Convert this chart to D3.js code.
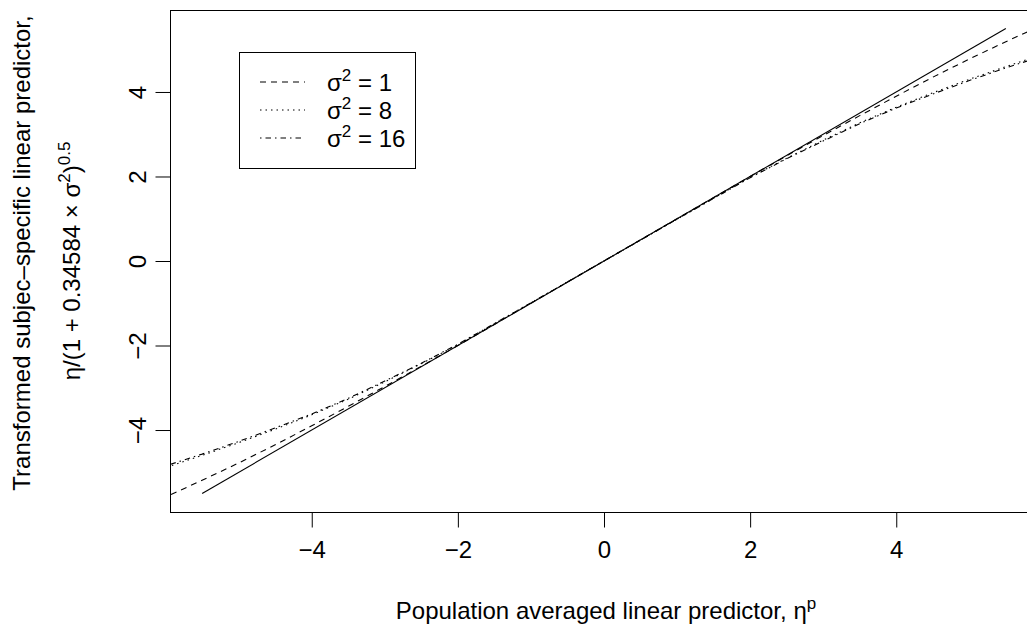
<!DOCTYPE html>
<html>
<head>
<meta charset="utf-8">
<script src="https://cdn.jsdelivr.net/npm/d3@7"></script>
<style>
  html, body { margin: 0; padding: 0; background: #fff; }
  svg { display: block; font-family: "Liberation Sans", Arial, sans-serif; }
</style>
</head>
<body>
<svg id="chart" width="1027" height="630"></svg>
<script>
// ---- data ----
const xTicks = [-4, -2, 0, 2, 4];
const yTicks = [-4, -2, 0, 2, 4];

// reference line (solid)
const refX = [-5.5, 5.5];
const refY = [-5.5, 5.5];

// curves: population averaged predictor (x) vs transformed subject-specific predictor (y)
const curveX = [-6.2, -5.5, -5, -4.5, -4, -3.5, -3, -2.5, -2, -1, 0, 1, 2, 2.5, 3, 3.5, 4, 4.5, 5, 5.5, 6.2];
const sigma1Y  = [-5.74, -5.19, -4.78, -4.35, -3.90, -3.44, -2.97, -2.49, -2.00, -1.00, 0, 1.00, 2.00, 2.49, 2.97, 3.44, 3.90, 4.35, 4.78, 5.19, 5.74];
const sigma8Y  = [-5.00, -4.60, -4.30, -3.98, -3.64, -3.27, -2.86, -2.43, -1.98, -0.99, 0, 0.99, 1.98, 2.43, 2.86, 3.27, 3.64, 3.98, 4.30, 4.60, 5.00];
const sigma16Y = [-4.96, -4.57, -4.27, -3.95, -3.62, -3.25, -2.84, -2.42, -1.97, -0.99, 0, 0.99, 1.97, 2.42, 2.84, 3.25, 3.62, 3.95, 4.27, 4.57, 4.96];

const legendLabels = ["1", "8", "16"];
const legendDash = ["6,5", "1.5,4", "1.5,4,5.5,4"];

// ---- layout ----
const svg = d3.select("#chart");
const pL = 170, pR = 1038, pT = 10, pB = 512;
const FS = 24;

const x = d3.scaleLinear().domain([-5.94, 5.94]).range([pL, pR]);
const y = d3.scaleLinear().domain([-5.94, 5.94]).range([pB, pT]);

svg.append("defs").append("clipPath").attr("id", "clip")
  .append("rect").attr("x", pL).attr("y", pT)
  .attr("width", pR - pL).attr("height", pB - pT);

const line = d3.line().x(d => x(d[0])).y(d => y(d[1]));
const plot = svg.append("g").attr("clip-path", "url(#clip)");

plot.append("path").datum(d3.zip(refX, refY)).attr("d", line)
  .attr("fill", "none").attr("stroke", "#000").attr("stroke-width", 1.1);

const series = [sigma1Y, sigma8Y, sigma16Y];
series.forEach((ys, i) => {
  plot.append("path").datum(d3.zip(curveX, ys)).attr("d", line)
    .attr("fill", "none").attr("stroke", "#000").attr("stroke-width", 1.1)
    .attr("stroke-dasharray", legendDash[i]);
});

// box
svg.append("rect").attr("x", pL + 0.5).attr("y", pT + 0.5)
  .attr("width", pR - pL).attr("height", pB - pT)
  .attr("fill", "none").attr("stroke", "#000").attr("stroke-width", 1);

// x axis
const xAxis = d3.axisBottom(x).tickValues(xTicks).tickSize(15)
  .tickFormat(d => d < 0 ? "\u2212" + Math.abs(d) : d);
const gx = svg.append("g").attr("transform", `translate(0,${pB + 0.5})`).call(xAxis);
gx.select(".domain").remove();
gx.selectAll(".tick line").attr("stroke", "#000");
gx.selectAll(".tick text").attr("font-size", FS).attr("font-family", "Liberation Sans, Arial, sans-serif")
  .attr("fill", "#000").attr("dy", null).attr("y", 45);

// y axis
const yAxis = d3.axisLeft(y).tickValues(yTicks).tickSize(15)
  .tickFormat(d => d < 0 ? "\u2212" + Math.abs(d) : d);
const gy = svg.append("g").attr("transform", `translate(${pL + 0.5},0)`).call(yAxis);
gy.select(".domain").remove();
gy.selectAll(".tick line").attr("stroke", "#000");
gy.selectAll(".tick text").attr("font-size", FS).attr("font-family", "Liberation Sans, Arial, sans-serif")
  .attr("fill", "#000").attr("x", null).attr("dy", null)
  .attr("text-anchor", "middle")
  .attr("transform", "translate(-25,0) rotate(-90)");

// x label
const xl = svg.append("text").attr("x", (pL + pR) / 2 + 2).attr("y", 619)
  .attr("text-anchor", "middle").attr("font-size", FS).attr("fill", "#000");
xl.append("tspan").text("Population averaged linear predictor, \u03b7");
xl.append("tspan").attr("dy", -10).attr("font-size", 17).text("p");

// y label (two lines)
const cy = (pT + pB) / 2;
svg.append("text").attr("transform", `translate(30,${cy - 8}) rotate(-90)`)
  .attr("text-anchor", "middle").attr("font-size", FS).attr("fill", "#000")
  .text("Transformed subjec\u2013specific linear predictor,");
const yl2 = svg.append("text").attr("transform", `translate(80,${cy}) rotate(-90)`)
  .attr("text-anchor", "middle").attr("font-size", FS).attr("fill", "#000");
yl2.append("tspan").text("\u03b7/(1 + 0.34584 \u00d7 \u03c3");
yl2.append("tspan").attr("dy", -10).attr("font-size", 17).text("2");
yl2.append("tspan").attr("dy", 10).text(")");
yl2.append("tspan").attr("dy", -10).attr("font-size", 17).text("0.5");

// legend
const lg = svg.append("g");
lg.append("rect").attr("x", 239.5).attr("y", 52.5).attr("width", 176).attr("height", 116)
  .attr("fill", "#fff").attr("stroke", "#000");
legendLabels.forEach((lab, i) => {
  const ry = 82 + i * 28;
  lg.append("line").attr("x1", 260).attr("x2", 305).attr("y1", ry).attr("y2", ry)
    .attr("stroke", "#000").attr("stroke-width", 1.1).attr("stroke-dasharray", legendDash[i]);
  const t = lg.append("text").attr("x", 327).attr("y", ry + 9).attr("font-size", FS).attr("fill", "#000");
  t.append("tspan").text("\u03c3");
  t.append("tspan").attr("dy", -10).attr("font-size", 17).text("2");
  t.append("tspan").attr("dy", 10).text(" = " + lab);
});
</script>
</body>
</html>
